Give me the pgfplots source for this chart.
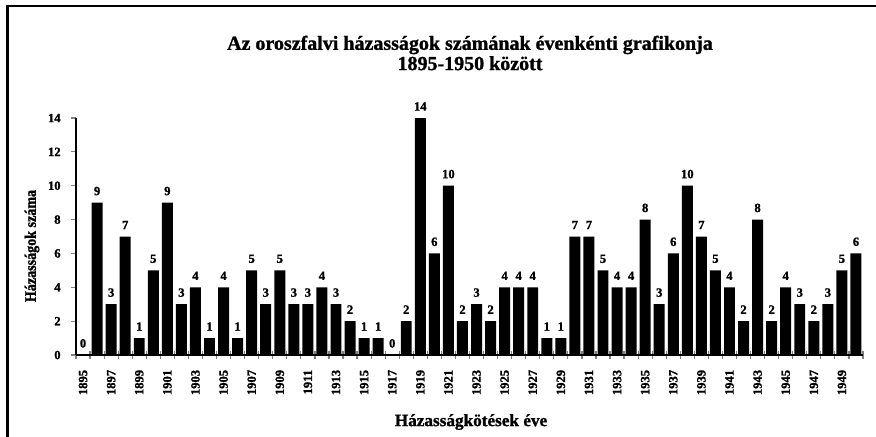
\documentclass[border=0pt]{standalone}
\usepackage{fontspec}
\setmainfont{Liberation Serif}[BoldFeatures={FakeBold=1.2}]
\newfontfamily\condfont[FakeStretch=0.88,BoldFeatures={FakeBold=1.2}]{Liberation Serif}
\usepackage{pgfplots}
\pgfplotsset{compat=1.18}
\usepackage{pgfplotstable}
\pgfplotstableread{
x y
0 0
1 9
2 3
3 7
4 1
5 5
6 9
7 3
8 4
9 1
10 4
11 1
12 5
13 3
14 5
15 3
16 3
17 4
18 3
19 2
20 1
21 1
22 0
23 2
24 14
25 6
26 10
27 2
28 3
29 2
30 4
31 4
32 4
33 1
34 1
35 7
36 7
37 5
38 4
39 4
40 8
41 3
42 6
43 10
44 7
45 5
46 4
47 2
48 8
49 2
50 4
51 3
52 2
53 3
54 5
55 6
}\datatable
\begin{document}
\begin{tikzpicture}[x=0.5pt,y=0.5pt]
\clip (0,0) rectangle (876,436);
\fill[white] (0,0) rectangle (876,436);
\draw[line width=1.1pt] (7.5,-20) -- (7.5,430) -- (900,430);
\node[font=\bfseries\fontsize{10}{9}\selectfont, align=center] at (470,383)
  {Az oroszfalvi házasságok számának évenkénti grafikonja\\1895-1950 között};
\node[font=\bfseries\fontsize{8.6}{9}\selectfont] at (471,14) {Házasságkötések éve};
\node[font=\condfont\bfseries\fontsize{8}{9}\selectfont, rotate=90] at (32,190) {Házasságok száma};
\begin{axis}[
  at={(38pt,40.5pt)}, anchor=south west,
  scale only axis, width=393.5pt, height=118.5pt,
  xmin=-0.5, xmax=55.5, ymin=0, ymax=14,
  axis lines*=left,
  axis line style={line width=0.6pt,-},
  ybar, bar width=0.78,
  /pgf/number format/assume math mode=true,
  tick label style={font=\bfseries\fontsize{6.3}{7}\selectfont},
  xtick={0,2,...,54},
  xticklabels={1895,1897,1899,1901,1903,1905,1907,1909,1911,1913,1915,1917,1919,1921,1923,1925,1927,1929,1931,1933,1935,1937,1939,1941,1943,1945,1947,1949},
  major x tick style={draw=none},
  minor xtick={-0.5,0.5,...,55.5},
  minor x tick style={line width=0.6pt},
  xtick align=center,
  minor tick length=4pt,
  xticklabel style={rotate=90, anchor=east, inner sep=0pt},
  xticklabel shift=6pt,
  ytick={0,2,...,14},
  ytick align=outside,
  major y tick style={line width=0.6pt},
  major tick length=2.5pt,
  yticklabel style={inner sep=0pt},
  yticklabel shift=5pt,
  nodes near coords,
  nodes near coords style={font=\bfseries\fontsize{6.3}{7}\selectfont, inner sep=0pt, yshift=3.5pt, anchor=south},
  point meta=explicit,
]
\addplot[fill=black, draw=none] table[x=x, y=y, meta=y] {\datatable};
\end{axis}
\end{tikzpicture}
\end{document}
